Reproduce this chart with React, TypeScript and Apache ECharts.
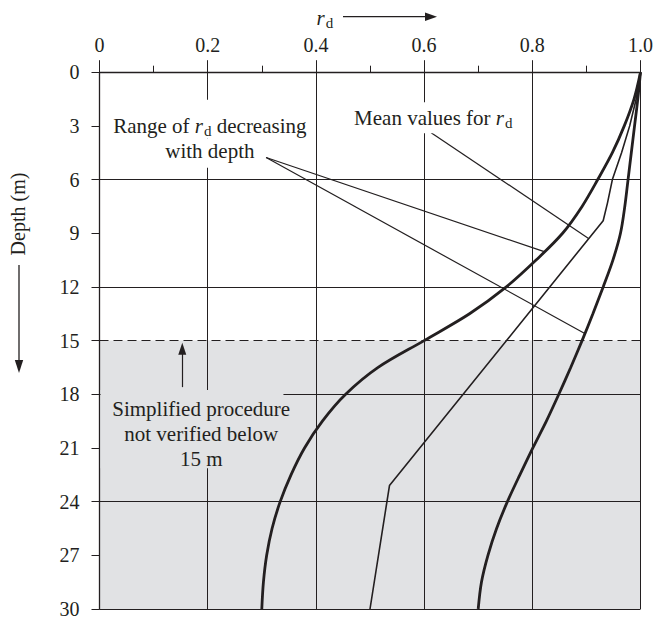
import React, { useEffect, useRef } from "react";
import * as echarts from "echarts";

const FONT = "'Liberation Serif', 'Times New Roman', serif";
const INK = "#231f20";
const SHADE = "#e1e2e4";

// Axis ticks
const rdTickLabels = ["0", "0.2", "0.4", "0.6", "0.8", "1.0"];
const depthMin = 0;
const depthMax = 30;
const depthLabelStep = 3;
const depthGridStep = 6;

// Lower bound of range of r_d (thick), read every 1.5 m
const lowerDepth = [0, 1.5, 3, 4.5, 6, 7.5, 9, 10.5, 12, 13.5, 15, 16.5, 18, 19.5, 21, 22.5, 24, 25.5, 27, 28.5, 30];
const lowerRd = [1.0, 0.988, 0.97, 0.948, 0.921, 0.892, 0.856, 0.807, 0.752, 0.684, 0.6, 0.515, 0.455, 0.412, 0.379, 0.354, 0.334, 0.319, 0.309, 0.303, 0.3];

// Mean values for r_d (thin)
const meanDepth = [0, 1.5, 3, 4.5, 6, 7.3, 8.3, 23.1, 30];
const meanRd = [1.0, 0.992, 0.98, 0.965, 0.948, 0.939, 0.931, 0.536, 0.5];

// Upper bound of range of r_d (thick), read every 1.5 m
const upperDepth = [0, 1.5, 3, 4.5, 6, 7.5, 9, 10.5, 12, 13.5, 15, 16.5, 18, 19.5, 21, 22.5, 24, 25.5, 27, 28.5, 30];
const upperRd = [1.0, 0.995, 0.989, 0.983, 0.977, 0.971, 0.963, 0.949, 0.931, 0.912, 0.892, 0.871, 0.849, 0.826, 0.801, 0.777, 0.754, 0.734, 0.718, 0.706, 0.7];

// Region where the procedure is not verified
const unverifiedFrom = 15;
const unverifiedTo = 30;

// Annotation leaders [rd, depth]
const rangeLeaderStart = [0.308, 4.77];
const rangeLeaderEnds = [[0.822, 10.03], [0.897, 14.6]];
const meanLeaderStart = [0.613, 3.38];
const meanLeaderEnd = [0.904, 9.29];
const arrowFrom = [0.153, 17.6];
const arrowTo = [0.153, 15.45];

// Annotation text anchors [rd, depth]
const rangeLabelAt = [0.204, 3.72];
const meanLabelAt = [0.617, 2.54];
const noteLabelAt = [0.188, 20.2];
const noteBox = [[0.002, 17.76], [0.34, 22.14]];

const zip = (xs: number[], ys: number[]) => xs.map((x, i) => [x, ys[i]]);

const ANN = 21;
const rich = {
  n: { fontFamily: FONT, fontSize: ANN, lineHeight: 25, fill: INK, color: INK },
  i: { fontFamily: FONT, fontSize: ANN, lineHeight: 25, fontStyle: "italic", fill: INK, color: INK },
  s: { fontFamily: FONT, fontSize: 15, lineHeight: 15, verticalAlign: "bottom", fill: INK, color: INK, padding: [0, 0, 0, 1] },
};

export default function App() {
  const ref = useRef<HTMLDivElement>(null);

  useEffect(() => {
    const chart = echarts.init(ref.current!, null, { renderer: "svg" });
    const option: any = {
      animation: false,
      textStyle: { fontFamily: FONT, color: INK },
      grid: { left: 99.5, right: 14.3, top: 72.2, bottom: 5 },
      xAxis: {
        type: "value",
        position: "top",
        min: 0,
        max: 1,
        interval: 0.2,
        z: 5,
        axisLine: { show: true, lineStyle: { color: INK, width: 1.3 } },
        axisTick: { show: true, inside: false, length: 12, lineStyle: { color: INK, width: 1 } },
        minorTick: { show: true, splitNumber: 2, length: 6.5, lineStyle: { color: INK, width: 1 } },
        splitLine: { show: true, lineStyle: { color: INK, width: 1 } },
        axisLabel: {
          margin: 17,
          fontFamily: FONT,
          fontSize: 20,
          color: INK,
          formatter: (v: number) => rdTickLabels[Math.round(v / 0.2)],
        },
      },
      yAxis: [
        {
          type: "value",
          inverse: true,
          min: depthMin,
          max: depthMax,
          interval: depthLabelStep,
          z: 5,
          axisLine: { show: true, lineStyle: { color: INK, width: 1.3 } },
          axisTick: { show: true, inside: false, length: 8, lineStyle: { color: INK, width: 1 } },
          splitLine: { show: false },
          axisLabel: { margin: 20, fontFamily: FONT, fontSize: 20, color: INK },
        },
        {
          type: "value",
          inverse: true,
          min: depthMin,
          max: depthMax,
          interval: depthGridStep,
          z: 5,
          axisLine: { show: false },
          axisTick: { show: false },
          axisLabel: { show: false },
          splitLine: { show: true, lineStyle: { color: INK, width: 1 } },
        },
      ],
      series: [
        {
          type: "line",
          data: [],
          z: 1,
          silent: true,
          markArea: {
            silent: true,
            itemStyle: { color: SHADE },
            data: [[{ coord: [0, unverifiedFrom] }, { coord: [1, unverifiedTo] }]],
          },
        },
        {
          type: "line",
          data: [],
          z: 6,
          silent: true,
          markLine: {
            silent: true,
            symbol: ["none", "none"],
            label: { show: false },
            lineStyle: { color: INK, width: 1.2, type: "solid" },
            data: [
              [{ coord: rangeLeaderStart }, { coord: rangeLeaderEnds[0] }],
              [{ coord: rangeLeaderStart }, { coord: rangeLeaderEnds[1] }],
              [{ coord: meanLeaderStart }, { coord: meanLeaderEnd }],
              [
                { coord: arrowFrom, symbol: "none" },
                { coord: arrowTo, symbol: "triangle", symbolSize: [8, 12] },
              ],
              { yAxis: unverifiedFrom, lineStyle: { type: [9, 5], width: 1.2, color: INK } },
            ],
          },
        },
        {
          type: "line",
          data: zip(lowerRd, lowerDepth),
          smooth: 0.33,
          showSymbol: false,
          silent: true,
          z: 6,
          lineStyle: { color: INK, width: 2.8 },
        },
        {
          type: "line",
          data: zip(meanRd, meanDepth),
          showSymbol: false,
          silent: true,
          z: 6,
          lineStyle: { color: INK, width: 1.6 },
        },
        {
          type: "line",
          data: zip(upperRd, upperDepth),
          smooth: 0.33,
          showSymbol: false,
          silent: true,
          z: 6,
          lineStyle: { color: INK, width: 2.8 },
        },
      ],
    };
    chart.setOption(option);

    const P = (p: number[]) => chart.convertToPixel({ xAxisIndex: 0, yAxisIndex: 0 }, p) as number[];
    const rp = P(rangeLabelAt);
    const mp = P(meanLabelAt);
    const np = P(noteLabelAt);
    const b0 = P(noteBox[0]);
    const b1 = P(noteBox[1]);

    const centered = { align: "center", verticalAlign: "middle", textAlign: "center", textVerticalAlign: "middle" };

    chart.setOption({
      graphic: [
        {
          type: "rect",
          z: 99,
          silent: true,
          shape: { x: b0[0], y: b0[1], width: b1[0] - b0[0], height: b1[1] - b0[1] },
          style: { fill: SHADE },
        },
        {
          type: "text",
          z: 100,
          x: np[0],
          y: np[1],
          silent: true,
          style: { text: "{n|Simplified procedure}\n{n|not verified below}\n{n|15 m}", rich, ...centered },
        },
        // white knock-outs behind the "Range of r_d" note (one per line)
        {
          type: "rect",
          z: 99,
          silent: true,
          shape: { x: rp[0] - 100, y: rp[1] - 39, width: 200, height: 39 },
          style: { fill: "#ffffff" },
        },
        {
          type: "rect",
          z: 99,
          silent: true,
          shape: { x: rp[0] - 50, y: rp[1], width: 100, height: 29 },
          style: { fill: "#ffffff" },
        },
        {
          type: "text",
          z: 100,
          x: rp[0],
          y: rp[1],
          silent: true,
          style: { text: "{n|Range of }{i|r}{s|d}{n| decreasing}\n{n|with depth}", rich, ...centered },
        },
        {
          type: "text",
          z: 100,
          x: mp[0],
          y: mp[1],
          silent: true,
          style: {
            text: "{n|Mean values for }{i|r}{s|d}",
            rich,
            ...centered,
            backgroundColor: "#ffffff",
            padding: [3, 4],
          },
        },
        // r_d axis title with arrow
        {
          type: "text",
          z: 100,
          x: 316.5,
          y: 18,
          silent: true,
          style: {
            text: "{i|r}{s|d}",
            rich,
            align: "left",
            verticalAlign: "middle",
            textAlign: "left",
            textVerticalAlign: "middle",
          },
        },
        {
          type: "line",
          z: 100,
          silent: true,
          shape: { x1: 343, y1: 16.7, x2: 428, y2: 16.7 },
          style: { stroke: INK, lineWidth: 1.3 },
        },
        {
          type: "polygon",
          z: 100,
          silent: true,
          shape: { points: [[425, 12.5], [437, 16.7], [425, 20.9]] },
          style: { fill: INK },
        },
        // Depth axis title with arrow
        {
          type: "text",
          z: 100,
          x: 17.5,
          y: 214,
          rotation: Math.PI / 2,
          silent: true,
          style: { text: "Depth (m)", fontFamily: FONT, fontSize: 20, fill: INK, ...centered },
        },
        {
          type: "line",
          z: 100,
          silent: true,
          shape: { x1: 19, y1: 265, x2: 19, y2: 363 },
          style: { stroke: INK, lineWidth: 1.3 },
        },
        {
          type: "polygon",
          z: 100,
          silent: true,
          shape: { points: [[14.8, 360], [19, 373], [23.2, 360]] },
          style: { fill: INK },
        },
      ],
    });

    return () => chart.dispose();
  }, []);

  return (
    <div
      ref={ref}
      style={{ position: "absolute", left: 0, top: 0, width: 656, height: 619, background: "#ffffff" }}
    />
  );
}
